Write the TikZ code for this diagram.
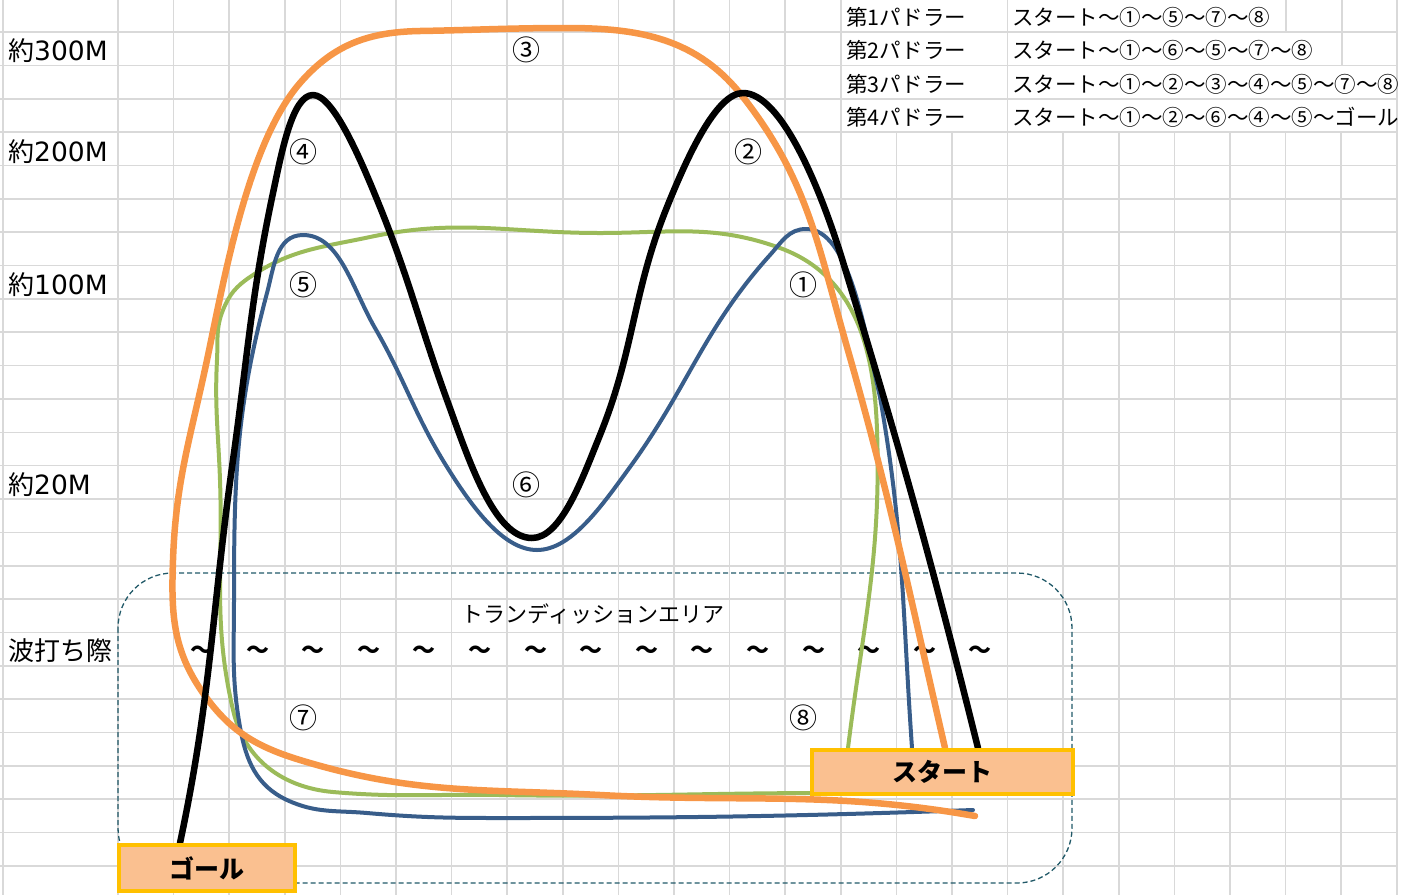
\documentclass[tikz,border=0pt]{standalone}
\usepackage{fontspec}
\setmainfont{Noto Sans CJK JP}
\newfontfamily\digitfont{DejaVu Sans}
\definecolor{routeorange}{HTML}{F79646}
\definecolor{routegreen}{HTML}{9BBB59}
\definecolor{routeblue}{HTML}{385D8A}
\definecolor{gridgray}{HTML}{D9D9D9}
\definecolor{areateal}{HTML}{215968}
\definecolor{boxfill}{HTML}{FAC090}
\definecolor{boxedge}{HTML}{FFC000}
\newcommand\hm[1]{{\digitfont\fontsize{26.5}{26.5}\selectfont#1}}

\begin{document}
\begin{tikzpicture}[
  x=1pt, y=1pt,
  gridline/.style={gridgray, line width=1.6pt},
  level/.style={anchor=west, inner sep=0pt, font=\fontsize{26}{26}\selectfont},
  paddler/.style={anchor=west, inner sep=0pt, font=\fontsize{21.5}{21.5}\selectfont},
  spot/.style={inner sep=0pt, font=\fontsize{28}{28}\selectfont},
  wave/.style={inner sep=0pt, font=\bfseries\fontsize{23}{23}\selectfont},
  area/.style={draw=areateal, dash pattern=on 5pt off 3pt, line width=1.3pt, rounded corners=55pt},
  placebox/.style={draw=boxedge, fill=boxfill, line width=4pt, inner sep=0pt, font=\bfseries\fontsize{25}{25}\selectfont},
  route/.style={line cap=round, line join=round},
  thickroute/.style={route, line width=6.5pt},
  thinroute/.style={route, line width=4pt}
]
\useasboundingbox (0,0) rectangle (1413,-895);

% grid
\draw[gridline] (3,0) -- (3,-895);
\foreach \i in {0,...,23}
  \draw[gridline] ({118+55.6*\i},-132) -- ({118+55.6*\i},-895);
\foreach \i in {0,...,13,16,23}
  \draw[gridline] ({118+55.6*\i},0) -- ({118+55.6*\i},-132);
\draw[gridline] (1286,0) -- (1286,-32);
\draw[gridline] (1342,0) -- (1342,-65);
\foreach \j in {0,...,25}
  \draw[gridline] (0,{-32-33.36*\j}) -- (1397,{-32-33.36*\j});

% labels
\node[level] (m300) at (8,-51) {約\hm{300M}};
\node[level] (m200) at (8,-152) {約\hm{200M}};
\node[level] (m100) at (8,-285) {約\hm{100M}};
\node[level] (m20) at (8,-485) {約\hm{20M}};
\node[level] (shore) at (8,-651) {波打ち際};

\node[paddler] (p1) at (846,-17) {第1パドラー};
\node[paddler] (p2) at (846,-50) {第2パドラー};
\node[paddler] (p3) at (846,-84) {第3パドラー};
\node[paddler] (p4) at (846,-117) {第4パドラー};
\node[paddler] (c1) at (1012,-17) {スタート～①～⑤～⑦～⑧};
\node[paddler] (c2) at (1012,-50) {スタート～①～⑥～⑤～⑦～⑧};
\node[paddler] (c3) at (1012,-84) {スタート～①～②～③～④～⑤～⑦～⑧};
\node[paddler] (c4) at (1012,-117) {スタート～①～②～⑥～④～⑤～ゴール};

% transition area
\draw[area] (118,-573) rectangle (1072,-883);
\node[inner sep=0pt, font=\fontsize{22}{22}\selectfont] (trans) at (593,-614) {トランディッションエリア};
\foreach \i in {0,...,14}
  \node[wave] (w\i) at ({202+55.6*\i},-652) {～};

% routes
\draw[thinroute, routegreen] (848,-748) to[out=83,in=272] (877,-430) to[out=92,in=340] (780,-248) to[out=160,in=0] (600,-233) to[out=180,in=12] (370,-237) to[out=192,in=34] (250,-277) to[out=214,in=68] (223,-310) to[out=248,in=87] (217,-360) to[out=267,in=92] (220,-480) to[out=272,in=103] (233,-710) to[out=283,in=175] (333,-792) to[out=355,in=179] (500,-795) to[out=359,in=180] (830,-793);
\draw[thinroute, routeblue] (912,-748) to[out=94,in=280] (880,-397) to[out=103,in=0,in looseness=0.6] (806,-229) to[out=180,in=48] (770,-255) to[out=228,in=54] (630,-467) to[out=234,in=0,in looseness=0.7] (537,-550) to[out=180,in=-58,out looseness=0.7] (447,-467) to[out=122,in=-60] (375,-328) to[out=120,in=0,in looseness=0.8] (303,-235) to[out=180,in=75] (267,-293) to[out=255,in=90] (234,-600) to[out=270,in=100] (240,-727) to[out=280,in=155] (287,-800) to[out=335,in=175] (367,-813) to[out=355,in=180] (500,-818) to[out=0,in=182] (973,-810);
\draw[thickroute, routeorange] (945,-748) to[out=103,in=286] (847,-347) to[out=106,in=308] (743,-97) to[out=128,in=0] (567,-28) to[out=180,in=1] (420,-31) to[out=181,in=49] (300,-83) to[out=229,in=78,looseness=0.7] (207,-360) to[out=258,in=88] (173,-560) to[out=268,in=125] (203,-693) to[out=305,in=163] (300,-760) to[out=343,in=177] (600,-795) to[out=357,in=170] (975,-816);
\draw[thickroute, black] (978,-748) to[out=104,in=287] (843,-262) to[out=107,in=0,in looseness=0.5] (743,-93) to[out=180,in=68,out looseness=0.5] (667,-207) to[out=248,in=68] (600,-435) to[out=248,in=0,in looseness=0.6] (532,-538) to[out=180,in=-70,out looseness=0.6] (447,-400) to[out=110,in=-68] (380,-207) to[out=112,in=0,in looseness=0.4] (313,-95) to[out=180,in=78,out looseness=0.5] (273,-193) to[out=258,in=82] (233,-460) to[out=262,in=78] (180,-843);

% points
\node[spot] (n1) at (803,-285) {①};
\node[spot] (n2) at (748,-152) {②};
\node[spot] (n3) at (526,-50) {③};
\node[spot] (n4) at (303,-152) {④};
\node[spot] (n5) at (303,-285) {⑤};
\node[spot] (n6) at (526,-485) {⑥};
\node[spot] (n7) at (303,-718) {⑦};
\node[spot] (n8) at (803,-718) {⑧};

% start and goal
\node[placebox, minimum width=261pt, minimum height=44pt] (start) at (942.5,-772) {スタート};
\node[placebox, minimum width=176pt, minimum height=46pt] (goal) at (207,-868) {ゴール};
\end{tikzpicture}
\end{document}
